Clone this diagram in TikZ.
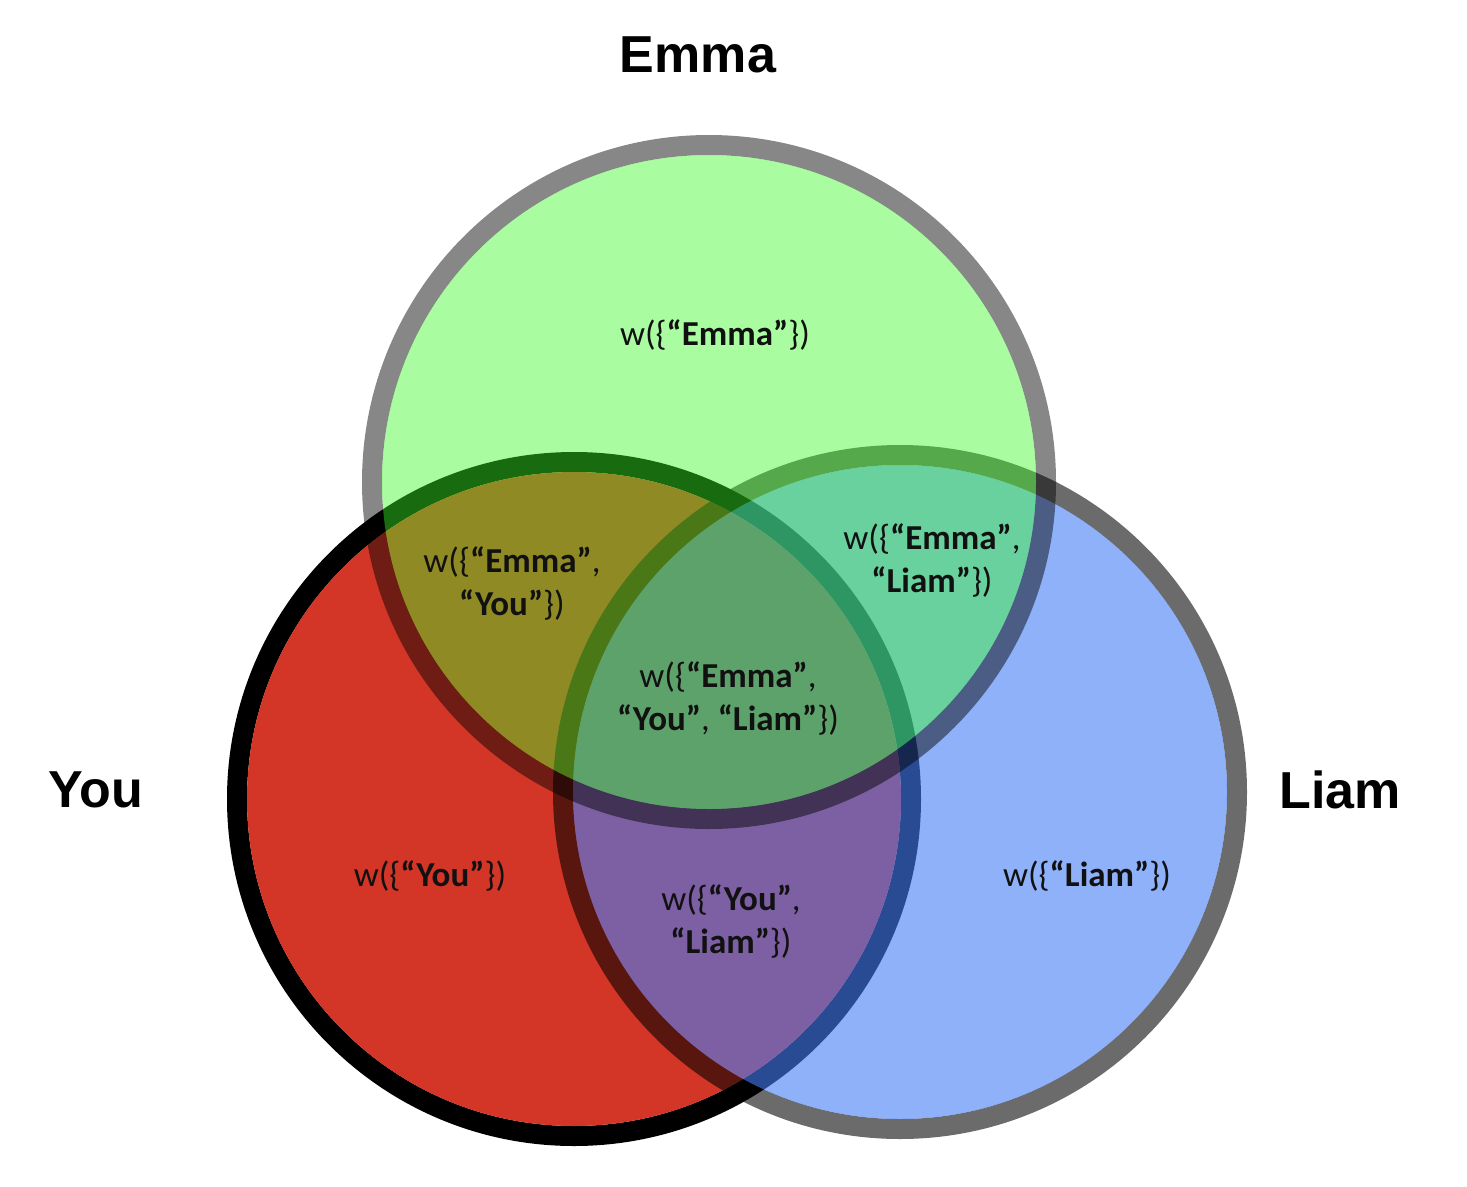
\documentclass[tikz,border=0pt]{standalone}
\usepackage{fontspec}
\setmainfont{Carlito}
\newfontfamily\titlefont{Liberation Sans}
\definecolor{youfill}{RGB}{211,53,38}
\definecolor{liamfill}{RGB}{67,125,247}
\definecolor{emmafill}{RGB}{56,251,35}
\definecolor{inktext}{RGB}{17,17,17}
\tikzset{
  ring/.style={fill=black, even odd rule},
  lbl/.style={text=inktext, align=center, font=\fontsize{35pt}{43pt}\selectfont, inner sep=0pt},
  ttl/.style={text=black, font=\titlefont\bfseries\fontsize{52pt}{60pt}\selectfont, inner sep=0pt}
}
\newcommand{\nm}[1]{\textbf{“#1”}}
\begin{document}
\begin{tikzpicture}[x=1pt,y=-1pt]
\useasboundingbox (0,0) rectangle (1467,1186);
\coordinate (Y) at (574,799);
\coordinate (L) at (900,792);
\coordinate (E) at (709,482);
% You (bottom)
\fill[ring, fill opacity=1] (Y) circle[radius=347pt] (Y) circle[radius=327pt];
\fill[youfill] (Y) circle[radius=327pt];
% Liam
\fill[ring, fill opacity=0.58] (L) circle[radius=347pt] (L) circle[radius=327pt];
\fill[liamfill, fill opacity=0.6] (L) circle[radius=327pt];
% Emma (top)
\fill[ring, fill opacity=0.47] (E) circle[radius=347pt] (E) circle[radius=327pt];
\fill[emmafill, fill opacity=0.43] (E) circle[radius=327pt];
% titles
\node[ttl] (tE) at (698,55) {Emma};
\node[ttl] (tY) at (96,790) {You};
\node[ttl] (tL) at (1340,790) {Liam};
% region labels
\node[lbl] (rE) at (715,335) {w(\{\nm{Emma}\})};
\node[lbl] (rEY) at (512,583) {w(\{\nm{Emma},\\\nm{You}\})};
\node[lbl] (rEL) at (932,560) {w(\{\nm{Emma},\\\nm{Liam}\})};
\node[lbl] (rEYL) at (728,698) {w(\{\nm{Emma},\\\nm{You}, \nm{Liam}\})};
\node[lbl] (rY) at (430,876) {w(\{\nm{You}\})};
\node[lbl] (rYL) at (731,921) {w(\{\nm{You},\\\nm{Liam}\})};
\node[lbl] (rL) at (1087,876) {w(\{\nm{Liam}\})};
\end{tikzpicture}
\end{document}
